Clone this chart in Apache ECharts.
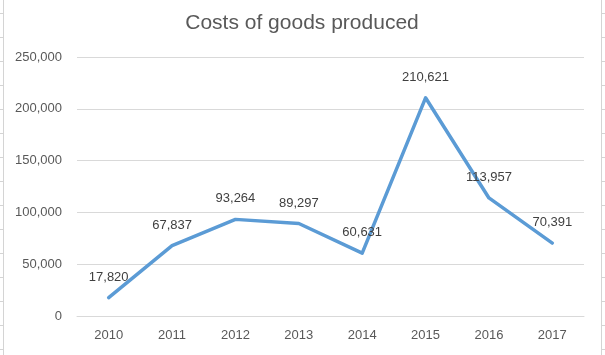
<!DOCTYPE html>
<html>
<head>
<meta charset="utf-8">
<script src="https://cdn.jsdelivr.net/npm/echarts@6/dist/echarts.min.js"></script>
<style>html,body{margin:0;padding:0;background:#fff;}#c{width:605px;height:355px;}</style>
</head>
<body>
<div id="c"></div>
<script>
const categories = ['2010','2011','2012','2013','2014','2015','2016','2017'];
const costs = [17820, 67837, 93264, 89297, 60631, 210621, 113957, 70391];
const titleText = 'Costs of goods produced';

const chart = echarts.init(document.getElementById('c'));
const FONT = 'Liberation Sans, Arial, sans-serif';
const fmt = v => v.toLocaleString('en-US');

// decorative spreadsheet edge lines
const deco = [];
deco.push({type:'line', shape:{x1:3.5,y1:0,x2:3.5,y2:355}, style:{stroke:'#d4d4d4', lineWidth:1}, silent:true});
deco.push({type:'line', shape:{x1:601.5,y1:0,x2:601.5,y2:355}, style:{stroke:'#d4d4d4', lineWidth:1}, silent:true});
for (let y = 13.5; y < 355; y += 24) {
  deco.push({type:'line', shape:{x1:0,y1:y,x2:3,y2:y}, style:{stroke:'#d4d4d4', lineWidth:1}, silent:true});
  deco.push({type:'line', shape:{x1:602,y1:y,x2:605,y2:y}, style:{stroke:'#d4d4d4', lineWidth:1}, silent:true});
}

chart.setOption({
  backgroundColor: '#ffffff',
  animation: false,
  title: {
    text: titleText,
    left: 297, top: 8, textAlign: 'center',
    textStyle: {fontFamily: FONT, fontSize: 21, fontWeight: 'normal', color: '#595959'}
  },
  grid: {left: 77, right: 21, top: 57, bottom: 39, containLabel: false},
  xAxis: {
    type: 'category',
    data: categories,
    boundaryGap: true,
    axisLine: {show: true, lineStyle: {color: '#d9d9d9', width: 1}},
    axisTick: {show: false},
    axisLabel: {color: '#595959', fontFamily: FONT, fontSize: 13, margin: 13}
  },
  yAxis: {
    type: 'value',
    min: 0, max: 250000, interval: 50000,
    axisLine: {show: false},
    axisTick: {show: false},
    axisLabel: {color: '#595959', fontFamily: FONT, fontSize: 13, margin: 15, formatter: fmt},
    splitLine: {lineStyle: {color: '#d9d9d9', width: 1}}
  },
  series: [{
    type: 'line',
    data: costs,
    symbol: 'circle',
    symbolSize: 0.1,
    showSymbol: true,
    lineStyle: {color: '#5b9bd5', width: 3.5, cap: 'round', join: 'round'},
    itemStyle: {color: '#5b9bd5'},
    label: {
      show: true, position: 'top', distance: 14,
      color: '#404040', fontFamily: FONT, fontSize: 13,
      formatter: p => fmt(p.value)
    }
  }],
  graphic: deco
});
</script>
</body>
</html>
